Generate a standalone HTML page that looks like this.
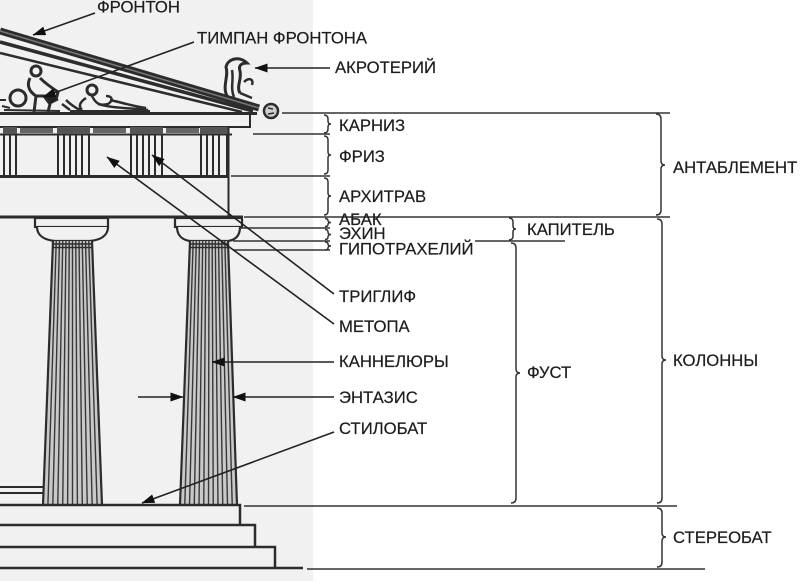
<!DOCTYPE html>
<html><head><meta charset="utf-8"><style>
html,body{margin:0;padding:0;background:#fff;}
svg{display:block}
text{font-family:"Liberation Sans","DejaVu Sans",sans-serif;font-size:16.7px;fill:#1c1c1c;stroke:#1c1c1c;stroke-width:0.2px}
</style></head><body>
<svg width="800" height="581" viewBox="0 0 800 581" xmlns="http://www.w3.org/2000/svg">
<defs>
<marker id="a" viewBox="0 0 13 9" refX="12.5" refY="4.5" markerWidth="13" markerHeight="9" markerUnits="userSpaceOnUse" orient="auto"><path d="M0,0 L13,4.5 L0,9 z" fill="#111"/></marker>
</defs>
<rect width="800" height="581" fill="#fff"/>
<rect x="0" y="0" width="313" height="581" fill="#f1f1f1"/>

<!-- Pediment -->
<g stroke="#2c2c2c" fill="none" stroke-linecap="butt">
  <line x1="0" y1="31" x2="259" y2="108" stroke-width="7"/>
  <line x1="0" y1="31" x2="259" y2="108" stroke-width="1.5" stroke="#777"/>
  <line x1="0" y1="42" x2="253" y2="111" stroke-width="3.5"/>
  <line x1="0" y1="53" x2="242" y2="112" stroke-width="2.5"/>
  <!-- sculptures -->
  <circle cx="18" cy="98" r="8" stroke-width="3"/>
  <circle cx="36" cy="71" r="5" stroke-width="3"/>
  <path d="M30,78 C26,86 30,92 36,96 L44,96 L50,104 L48,112 M36,96 L34,112 M40,78 C46,84 52,88 58,92 L56,100" stroke-width="3"/>
  <path d="M44,96 L52,92 L58,100 L50,104 z" fill="#222" stroke-width="1"/>
  <path d="M62,104 L70,110 M66,100 C70,104 76,108 80,110" stroke-width="2.5"/>
  <circle cx="92" cy="90" r="5" stroke-width="3"/>
  <path d="M86,98 C80,102 78,106 82,110 M92,96 C96,104 100,106 108,104 C114,100 112,96 106,96 M98,104 C110,108 130,108 148,110 M110,100 C120,102 132,106 146,108" stroke-width="2.5"/>
  <path d="M0,100 L6,100 M2,106 L10,108 M4,110 L60,111 M70,111 L150,111" stroke-width="2"/>
  <!-- akroterion -->
  <path d="M227,96 C222,86 229,76 226,67 C228,58 240,56 247,63 C242,63 238,65 240,71 C242,79 236,87 240,93" stroke-width="3"/>
  <path d="M244,82 C249,77 254,79 252,85 M232,70 C234,80 230,88 234,97 M240,93 L252,98" stroke-width="2.5"/>
  <!-- lion head -->
  <circle cx="271" cy="111" r="7" stroke-width="2.5" fill="#cfcfcf"/>
  <path d="M268,108 L273,109 M268,114 L274,113" stroke-width="1.5"/>
</g>

<!-- Cornice & frieze -->
<g stroke="#2c2c2c" fill="none">
  <line x1="0" y1="113.5" x2="257" y2="113.5" stroke-width="3"/>
  <line x1="250" y1="113" x2="250" y2="128" stroke-width="2"/>
  <line x1="0" y1="127" x2="251" y2="127" stroke-width="2"/>
  <line x1="0" y1="134.5" x2="232" y2="134.5" stroke-width="2"/>
  <g fill="#666" stroke="none">
    <rect x="20" y="128" width="33" height="5"/>
    <rect x="93" y="128" width="33" height="5"/>
    <rect x="166" y="128" width="33" height="5"/>
    <rect x="3" y="127" width="14" height="7" fill="#555"/>
    <rect x="57" y="127" width="33" height="7" fill="#555"/>
    <rect x="130" y="127" width="33" height="7" fill="#555"/>
    <rect x="200" y="127" width="29" height="7" fill="#555"/>
  </g>
  <g stroke-width="2">
    <path d="M4,134V177 M10,134V177 M16,134V177"/>
    <path d="M58,134V178 M64,134V178 M70,134V178 M76,134V178 M82,134V178 M89,134V178"/>
    <path d="M131,134V178 M137,134V178 M143,134V178 M149,134V178 M155,134V178 M162,134V178"/>
    <path d="M201,134V178 M207,134V178 M213,134V178 M219,134V178 M227,134V178"/>
  </g>
  <line x1="0" y1="176.5" x2="229" y2="176.5" stroke-width="3"/>
  <line x1="228.5" y1="127" x2="228.5" y2="217" stroke-width="2"/>
  <line x1="0" y1="217" x2="243" y2="217" stroke-width="3"/>
</g>

<!-- Capitals -->
<g stroke="#2c2c2c" fill="#f1f1f1" stroke-width="2.2">
  <rect x="35" y="218" width="73" height="9"/>
  <path d="M37,227 C37,236 45,240 55,241 L90,241 C100,240 108,236 108,227"/>
  <rect x="175" y="218" width="67" height="9"/>
  <path d="M177,227 C177,236 183,240 190,241 L228,241 C235,240 240,236 240,227"/>
</g>

<!-- Shafts -->
<g>
  <polygon points="53,241 92,241 102,505 43,505" fill="#c9c9c9"/>
  <polygon points="190,241 228,241 237,505 180,505" fill="#c9c9c9"/>
  <path stroke="#383838" stroke-width="1.4" fill="none" d="
  M56.25,241L47.9,505 M59.5,241L52.8,505 M62.75,241L57.75,505 M66,241L62.7,505 M69.25,241L67.6,505 M72.5,241L72.5,505 M75.75,241L77.4,505 M79,241L82.3,505 M82.25,241L87.25,505 M85.5,241L92.2,505 M88.75,241L97.1,505
  M193.2,241L184.75,505 M196.3,241L189.5,505 M199.5,241L194.25,505 M202.7,241L199,505 M205.8,241L203.75,505 M209,241L208.5,505 M212.2,241L213.25,505 M215.3,241L218,505 M218.5,241L222.75,505 M221.7,241L227.5,505 M224.8,241L232.25,505"/>
  <path stroke="#2c2c2c" stroke-width="2.2" fill="none" d="M53,241L43,505 M92,241L102,505 M190,241L180,505 M228,241L237,505"/>
  <path stroke="#2c2c2c" stroke-width="1.5" fill="none" d="M53,244H92 M53,247.5H92 M190,244H228 M190,247.5H228"/>
</g>

<!-- Steps -->
<g stroke="#2c2c2c" stroke-width="2.5" fill="none">
  <path d="M0,487H43 M0,493H43" stroke-width="2"/>
  <path d="M0,505H240V525"/>
  <path d="M0,525H255V547"/>
  <path d="M0,547H275V568"/>
  <path d="M0,568H303"/>
</g>

<!-- Label reference lines -->
<g stroke="#333" stroke-width="1.5" fill="none">
  <path d="M282,113H670"/>
  <path d="M253,134H330"/>
  <path d="M231,176H330"/>
  <path d="M244,217H670"/>
  <path d="M240,228H330"/>
  <path d="M233,241H330 M475,241H565"/>
  <path d="M233,250H330"/>
  <path d="M244,506H677"/>
  <path d="M307,569H705"/>
</g>

<!-- Braces -->
<g stroke="#333" stroke-width="1.5" fill="none">
  <path d="M324,115 Q328,115 328,119 L328,121 Q328,124 331,124 Q328,124 328,127 L328,129 Q328,133 324,133"/>
  <path d="M324,136 Q328,136 328,140 L328,152 Q328,155 331,155 Q328,155 328,158 L328,170 Q328,174 324,174"/>
  <path d="M324,178 Q328,178 328,182 L328,193 Q328,196 331,196 Q328,196 328,199 L328,211 Q328,215 324,215"/>
  <path d="M325,218.5 Q328,218.5 328,220.5 Q328,222.5 331,222.5 Q328,222.5 328,224.5 Q328,226.5 325,226.5"/>
  <path d="M325,229.5 Q328,229.5 328,232 Q328,234.5 331,234.5 Q328,234.5 328,237 Q328,239.5 325,239.5"/>
  <path d="M325,242 Q328,242 328,244 Q328,246 331,246 Q328,246 328,248 Q328,250 325,250"/>
  <path d="M509,218 Q513,218 513,222 L513,226 Q513,229 516,229 Q513,229 513,232 L513,236 Q513,240 509,240"/>
  <path d="M511,243 Q516,243 516,248 L516,369 Q516,373 520,373 Q516,373 516,377 L516,498 Q516,503 511,503"/>
  <path d="M656,114 Q661,114 661,119 L661,161 Q661,165 665,165 Q661,165 661,169 L661,210 Q661,215 656,215"/>
  <path d="M657,219 Q662,219 662,224 L662,356 Q662,360 666,360 Q662,360 662,364 L662,498 Q662,503 657,503"/>
  <path d="M657,508 Q662,508 662,513 L662,533 Q662,537 666,537 Q662,537 662,541 L662,562 Q662,567 657,567"/>
</g>

<!-- Leader arrows -->
<g stroke="#222" stroke-width="1.6" fill="none" marker-end="url(#a)">
  <line x1="95" y1="13" x2="33" y2="35"/>
  <line x1="194" y1="42" x2="43" y2="97"/>
  <line x1="330" y1="68" x2="255" y2="68"/>
  <line x1="334" y1="294" x2="152" y2="155"/>
  <line x1="334" y1="324" x2="107" y2="157"/>
  <line x1="334" y1="362" x2="212" y2="362"/>
  <line x1="334" y1="397" x2="233" y2="397"/>
  <line x1="138" y1="397" x2="183" y2="397"/>
  <line x1="334" y1="432" x2="142" y2="503"/>
</g>

<!-- Labels -->
<text x="97" y="12.5">ФРОНТОН</text>
<text x="197" y="43.5">ТИМПАН ФРОНТОНА</text>
<text x="335" y="73">АКРОТЕРИЙ</text>
<text x="339" y="131">КАРНИЗ</text>
<text x="339" y="162">ФРИЗ</text>
<text x="339" y="202">АРХИТРАВ</text>
<text x="339" y="225">АБАК</text>
<text x="339" y="239">ЭХИН</text>
<text x="339" y="254.5">ГИПОТРАХЕЛИЙ</text>
<text x="339" y="302">ТРИГЛИФ</text>
<text x="339" y="332">МЕТОПА</text>
<text x="339" y="367">КАННЕЛЮРЫ</text>
<text x="339" y="403">ЭНТАЗИС</text>
<text x="339" y="434">СТИЛОБАТ</text>
<text x="527" y="235">КАПИТЕЛЬ</text>
<text x="527" y="378">ФУСТ</text>
<text x="673" y="173">АНТАБЛЕМЕНТ</text>
<text x="673" y="366">КОЛОННЫ</text>
<text x="673" y="543">СТЕРЕОБАТ</text>
</svg>
</body></html>
